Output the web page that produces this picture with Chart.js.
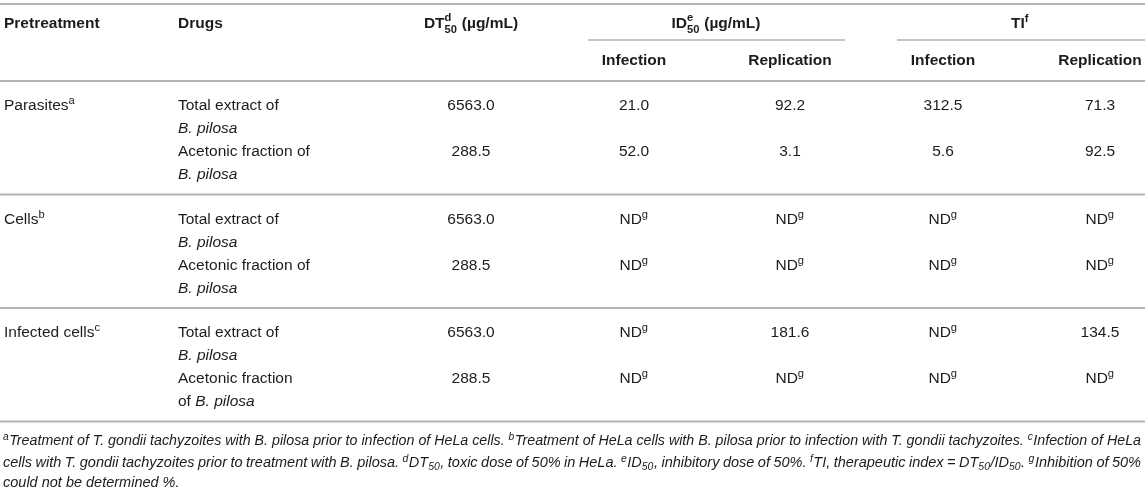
<!DOCTYPE html>
<html>
<head>
<meta charset="utf-8">
<script src="https://cdn.jsdelivr.net/npm/chart.js@4.4.1/dist/chart.umd.min.js"></script>
<style>
  html, body { margin: 0; padding: 0; background: #fff; }
  #wrap { width: 1145px; height: 490px; position: relative; }
</style>
</head>
<body>
<div id="wrap"><canvas id="tableChart"></canvas></div>
<script>
// table contents ({^x} superscript, {^x|y} stacked, {_x} subscript, *..* italic)
var headerTop = ["Pretreatment", "Drugs", "DT{^d|50} (µg/mL)", "ID{^e|50} (µg/mL)", "TI{^f}"];
var headerSub = ["Infection", "Replication", "Infection", "Replication"];
var pretreatments = ["Parasites{^a}", "Cells{^b}", "Infected cells{^c}"];
var drugLines = [
  ["Total extract of", "*B. pilosa*"],
  ["Acetonic fraction of", "*B. pilosa*"],
  ["Total extract of", "*B. pilosa*"],
  ["Acetonic fraction of", "*B. pilosa*"],
  ["Total extract of", "*B. pilosa*"],
  ["Acetonic fraction", "of *B. pilosa*"]
];
var dt50 = [6563.0, 288.5, 6563.0, 288.5, 6563.0, 288.5];
var id50Infection = [21.0, 52.0, null, null, null, null];
var id50Replication = [92.2, 3.1, null, null, 181.6, null];
var tiInfection = [312.5, 5.6, null, null, null, null];
var tiReplication = [71.3, 92.5, null, null, 134.5, null];
var notDetermined = "ND{^g}";
var footnotes = [
  "{^a}Treatment of T. gondii tachyzoites with B. pilosa prior to infection of HeLa cells. {^b}Treatment of HeLa cells with B. pilosa prior to infection with T. gondii tachyzoites. {^c}Infection of HeLa",
  "cells with T. gondii tachyzoites prior to treatment with B. pilosa. {^d}DT{_50}, toxic dose of 50% in HeLa. {^e}ID{_50}, inhibitory dose of 50%. {^f}TI, therapeutic index = DT{_50}/ID{_50}. {^g}Inhibition of 50%",
  "could not be determined %."
];

// page geometry, in the units of the (hidden) x and y scales
var layout = {
  pretreatX: 4, drugX: 178,
  valueX: [471, 634, 790, 943, 1100],
  groupX: [471, 716, 1020],
  idRule: [588, 845], tiRule: [897, 1145],
  ruleTop: 4, ruleSub: 40, ruleHead: 81, groupStep: 113.5,
  headBase1: 28, headBase2: 65,
  firstBase: 29, lineStep: 23,
  footBase: [445, 467, 487], footLeft: 3, footRight: 1141
};
var FONT = '"Liberation Sans", Arial, Helvetica, sans-serif';
var TEXT = "#1c1c1c", RULE = "#b3b3b3";

function lineBase(group, line) {
  return layout.ruleHead + group * layout.groupStep + layout.firstBase + line * layout.lineStep;
}

function parseRich(str, italicBase) {
  var runs = [], italic = !!italicBase, m;
  var re = /\{\^([^}|]*)(?:\|([^}]*))?\}|\{_([^}]*)\}|\*|[^{*]+/g;
  while ((m = re.exec(str))) {
    if (m[0] === "*") { italic = !italic; continue; }
    if (m[1] !== undefined) runs.push({ sup: m[1], sub: m[2], italic: italic });
    else if (m[3] !== undefined) runs.push({ sub: m[3], italic: italic });
    else runs.push({ text: m[0], italic: italic });
  }
  return runs;
}

function fontOf(size, bold, italic) {
  return (italic ? "italic " : "") + (bold ? "bold " : "") + size + "px " + FONT;
}

function runWidth(ctx, run, o) {
  if (run.text !== undefined) {
    ctx.font = fontOf(o.size, o.bold, run.italic);
    var spaces = run.text.split(" ").length - 1;
    return ctx.measureText(run.text).width + spaces * (o.wordSpace || 0);
  }
  ctx.font = fontOf(o.size * 0.72, o.bold, run.italic);
  var w1 = run.sup ? ctx.measureText(run.sup).width : 0;
  var w2 = run.sub ? ctx.measureText(run.sub).width : 0;
  return Math.max(w1, w2) + 0.5;
}

function richWidth(ctx, runs, o) {
  var w = 0;
  runs.forEach(function (r) { w += runWidth(ctx, r, o); });
  return w;
}

function drawRich(ctx, str, x, y, o) {
  var runs = parseRich(str, o.italic);
  var w = richWidth(ctx, runs, o);
  if (o.align === "center") x -= w / 2;
  else if (o.align === "right") x -= w;
  ctx.fillStyle = TEXT;
  ctx.textBaseline = "alphabetic";
  ctx.textAlign = "left";
  runs.forEach(function (r) {
    if (r.text !== undefined) {
      ctx.font = fontOf(o.size, o.bold, r.italic);
      var words = r.text.split(" ");
      var sp = ctx.measureText(" ").width + (o.wordSpace || 0);
      words.forEach(function (word, i) {
        if (i > 0) x += sp;
        ctx.fillText(word, x, y);
        x += ctx.measureText(word).width;
      });
    } else {
      var small = o.size * 0.72;
      ctx.font = fontOf(small, o.bold, r.italic);
      if (r.sup) ctx.fillText(r.sup, x, y - o.size * (r.sub ? 0.42 : 0.36));
      if (r.sub) ctx.fillText(r.sub, x, y + o.size * (r.sup ? 0.3 : 0.24));
      x += runWidth(ctx, r, o);
    }
  });
}

function columnLabel(v) {
  return v === null ? notDetermined : v.toFixed(1);
}

var tablePlugin = {
  id: "tableText",
  afterDatasetsDraw: function (chart) {
    var ctx = chart.ctx, xs = chart.scales.x, ys = chart.scales.y;
    var X = function (v) { return xs.getPixelForValue(v); };
    var Y = function (v) { return ys.getPixelForValue(v); };
    ctx.save();

    // rules
    ctx.strokeStyle = RULE;
    function rule(x0, x1, y, w) {
      ctx.lineWidth = w;
      ctx.beginPath();
      ctx.moveTo(X(x0), Y(y));
      ctx.lineTo(X(x1), Y(y));
      ctx.stroke();
    }
    rule(0, 1145, layout.ruleTop, 2);
    rule(layout.idRule[0], layout.idRule[1], layout.ruleSub, 1.5);
    rule(layout.tiRule[0], layout.tiRule[1], layout.ruleSub, 1.5);
    for (var g = 0; g <= pretreatments.length; g++) {
      rule(0, 1145, layout.ruleHead + g * layout.groupStep, 2);
    }

    // header
    var hb = { size: 15.5, bold: true };
    drawRich(ctx, headerTop[0], X(layout.pretreatX), Y(layout.headBase1), hb);
    drawRich(ctx, headerTop[1], X(layout.drugX), Y(layout.headBase1), hb);
    for (var h = 2; h < headerTop.length; h++) {
      drawRich(ctx, headerTop[h], X(layout.groupX[h - 2]), Y(layout.headBase1),
        { size: 15.5, bold: true, align: "center" });
    }
    headerSub.forEach(function (t, i) {
      drawRich(ctx, t, X(layout.valueX[i + 1]), Y(layout.headBase2),
        { size: 15.5, bold: true, align: "center" });
    });

    // left columns
    var body = { size: 15.5 };
    pretreatments.forEach(function (t, g) {
      drawRich(ctx, t, X(layout.pretreatX), Y(lineBase(g, 0)), body);
    });
    drugLines.forEach(function (lines, r) {
      var g = Math.floor(r / 2), k = (r % 2) * 2;
      lines.forEach(function (t, l) {
        drawRich(ctx, t, X(layout.drugX), Y(lineBase(g, k + l)), body);
      });
    });

    // value columns, placed by the scatter points
    chart.data.datasets.forEach(function (ds, di) {
      var meta = chart.getDatasetMeta(di);
      meta.data.forEach(function (pt, i) {
        drawRich(ctx, columnLabel(ds.values[i]), pt.x, pt.y, { size: 15.5, align: "center" });
      });
    });

    // footnotes (first lines justified)
    footnotes.forEach(function (t, i) {
      var o = { size: 14.5, italic: true, wordSpace: 0 };
      if (i < footnotes.length - 1) {
        var runs = parseRich(t, true);
        var target = X(layout.footRight) - X(layout.footLeft);
        var w = richWidth(ctx, runs, o);
        while (w > target + 20 && o.size > 11) { o.size -= 0.25; w = richWidth(ctx, runs, o); }
        var spaces = (t.match(/ /g) || []).length;
        o.wordSpace = (target - w) / spaces;
      }
      drawRich(ctx, t, X(layout.footLeft), Y(layout.footBase[i]), o);
    });

    ctx.restore();
  }
};

var valueColumns = [dt50, id50Infection, id50Replication, tiInfection, tiReplication];
var columnNames = ["DT50", "ID50 infection", "ID50 replication", "TI infection", "TI replication"];

new Chart(document.getElementById("tableChart").getContext("2d"), {
  type: "scatter",
  data: {
    datasets: valueColumns.map(function (vals, c) {
      return {
        label: columnNames[c],
        values: vals,
        data: vals.map(function (v, r) {
          return { x: layout.valueX[c], y: lineBase(Math.floor(r / 2), (r % 2) * 2) };
        }),
        pointRadius: 0,
        pointHoverRadius: 0
      };
    })
  },
  options: {
    responsive: true,
    maintainAspectRatio: false,
    animation: false,
    events: [],
    layout: { padding: 0 },
    scales: {
      x: { type: "linear", min: 0, max: 1145, display: false },
      y: { type: "linear", min: 0, max: 490, reverse: true, display: false }
    },
    plugins: { legend: { display: false }, tooltip: { enabled: false } }
  },
  plugins: [tablePlugin]
});
</script>
</body>
</html>
